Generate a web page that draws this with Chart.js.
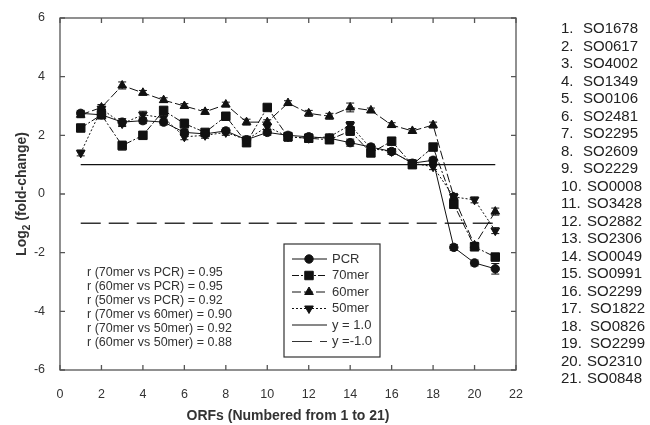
<!DOCTYPE html>
<html lang="en">
  <head>
    <meta charset="UTF-8" />
    <title>Log2 fold-change by ORF</title>
    <script src="https://cdn.jsdelivr.net/npm/chart.js"></script>
    <style>
      html, body { margin: 0; padding: 0; background: #fff; }
      #wrap { width: 650px; height: 425px; }
    </style>
  </head>
  <body>
    <div id="wrap"><canvas id="myChart" width="650" height="425"></canvas></div>
    <script>
      // values
      const orfs = [1, 2, 3, 4, 5, 6, 7, 8, 9, 10, 11, 12, 13, 14, 15, 16, 17, 18, 19, 20, 21];
      const pcr = [2.75, 2.7, 2.45, 2.5, 2.45, 2.1, 2.05, 2.15, 1.85, 2.1, 2.0, 1.95, 1.9, 1.75, 1.6, 1.45, 1.05, 1.15, -1.82, -2.35, -2.55];
      const mer70 = [2.25, 2.7, 1.65, 2.0, 2.85, 2.4, 2.1, 2.65, 1.75, 2.95, 1.95, 1.9, 1.85, 2.15, 1.4, 1.8, 1.0, 1.6, -0.35, -1.8, -2.15];
      const mer60 = [2.7, 2.95, 3.7, 3.45, 3.2, 3.0, 2.8, 3.05, 2.45, 2.45, 3.1, 2.75, 2.65, 2.95, 2.85, 2.35, 2.15, 2.35, -0.1, -1.75, -0.6];
      const mer50 = [1.4, 2.9, 2.4, 2.7, 2.6, 1.95, 2.0, 2.1, 1.85, 2.3, 1.95, 1.9, 1.95, 2.35, 1.55, 1.45, 1.05, 0.93, -0.1, -0.2, -1.25];
      const pcrErr = [0.1, 0.1, 0.12, 0.1, 0.1, 0.1, 0.1, 0.1, 0.1, 0.1, 0.1, 0.1, 0.1, 0.12, 0.1, 0.1, 0.12, 0.1, 0.1, 0.1, 0.18];
      const mer70Err = [0.12, 0.12, 0.15, 0.12, 0.1, 0.15, 0.1, 0.1, 0.12, 0.1, 0.15, 0.1, 0.1, 0.15, 0.1, 0.12, 0.12, 0.1, 0.12, 0.12, 0.12];
      const mer60Err = [0.1, 0.1, 0.12, 0.08, 0.08, 0.08, 0.08, 0.08, 0.1, 0.08, 0.08, 0.1, 0.1, 0.15, 0.08, 0.08, 0.08, 0.1, 0.1, 0.1, 0.12];
      const mer50Err = [0.1, 0.1, 0.1, 0.12, 0.12, 0.1, 0.1, 0.1, 0.12, 0.1, 0.1, 0.1, 0.1, 0.12, 0.12, 0.1, 0.1, 0.1, 0.12, 0.1, 0.1];
      const refUp = 1.0;
      const refDown = -1.0;
      const orfNames = ["SO1678", "SO0617", "SO4002", "SO1349", "SO0106", "SO2481", "SO2295", "SO2609", "SO2229", "SO0008", "SO3428",
        "SO2882", "SO2306", "SO0049", "SO0991", "SO2299", "SO1822", "SO0826", "SO2299", "SO2310", "SO0848"];
      const corrLines = [
        "r (70mer vs PCR) = 0.95",
        "r (60mer vs PCR) = 0.95",
        "r (50mer vs PCR) = 0.92",
        "r (70mer vs 60mer) = 0.90",
        "r (70mer vs 50mer) = 0.92",
        "r (60mer vs 50mer) = 0.88",
      ];
      const xTicks = [0, 2, 4, 6, 8, 10, 12, 14, 16, 18, 20, 22];
      const yTicks = [-6, -4, -2, 0, 2, 4, 6];

      const ink = "#111";
      const axisCol = "#555";
      const textCol = "#333";
      const toPts = (arr) => arr.map((v, i) => ({ x: orfs[i], y: v }));

      const series = [
        { label: "PCR", data: pcr, err: pcrErr, style: "circle", radius: 4.2, rot: 0, dash: [] },
        { label: "70mer", data: mer70, err: mer70Err, style: "rect", radius: 6, rot: 0, dash: [7, 2, 2, 2] },
        { label: "60mer", data: mer60, err: mer60Err, style: "triangle", radius: 5, rot: 0, dash: [9, 3] },
        { label: "50mer", data: mer50, err: mer50Err, style: "triangle", radius: 5, rot: 180, dash: [2, 2] },
      ];

      const datasets = series.map((s) => ({
        label: s.label,
        data: toPts(s.data),
        borderColor: ink,
        backgroundColor: ink,
        borderWidth: 1,
        borderDash: s.dash,
        pointStyle: s.style,
        pointRadius: s.radius,
        pointRotation: s.rot,
        pointBackgroundColor: ink,
        pointBorderColor: ink,
        pointBorderWidth: 1,
        tension: 0,
      }));
      datasets.push({
        label: "y = 1.0",
        data: [{ x: orfs[0], y: refUp }, { x: orfs[orfs.length - 1], y: refUp }],
        borderColor: ink, borderWidth: 1.2, pointRadius: 0,
      });
      datasets.push({
        label: "y =-1.0",
        data: [{ x: orfs[0], y: refDown }, { x: orfs[orfs.length - 1], y: refDown }],
        borderColor: "#333", borderWidth: 1.5, borderDash: [20, 8], pointRadius: 0,
      });

      const extras = {
        id: "extras",
        beforeDatasetsDraw(chart) {
          const c = chart.ctx;
          const ys = chart.scales.y;
          c.save();
          c.strokeStyle = ink;
          c.lineWidth = 1;
          series.forEach((s, i) => {
            const meta = chart.getDatasetMeta(i);
            meta.data.forEach((p, j) => {
              const top = ys.getPixelForValue(s.data[j] + s.err[j]);
              const bot = ys.getPixelForValue(s.data[j] - s.err[j]);
              c.beginPath();
              c.moveTo(p.x, top); c.lineTo(p.x, bot);
              c.moveTo(p.x - 4, top); c.lineTo(p.x + 4, top);
              c.moveTo(p.x - 4, bot); c.lineTo(p.x + 4, bot);
              c.stroke();
            });
          });
          c.restore();
        },
        afterDraw(chart) {
          const c = chart.ctx;
          const a = chart.chartArea;
          const xs = chart.scales.x;
          const ys = chart.scales.y;
          c.save();
          // frame and inner ticks
          c.strokeStyle = axisCol;
          c.lineWidth = 1.3;
          c.strokeRect(a.left, a.top, a.right - a.left, a.bottom - a.top);
          c.beginPath();
          xTicks.forEach((t) => {
            const x = xs.getPixelForValue(t);
            c.moveTo(x, a.bottom); c.lineTo(x, a.bottom - 5);
            c.moveTo(x, a.top); c.lineTo(x, a.top + 5);
          });
          yTicks.forEach((t) => {
            const y = ys.getPixelForValue(t);
            c.moveTo(a.left, y); c.lineTo(a.left + 5, y);
            c.moveTo(a.right, y); c.lineTo(a.right - 5, y);
          });
          c.stroke();

          // y axis title with subscript
          c.fillStyle = textCol;
          c.translate(22, (a.top + a.bottom) / 2);
          c.rotate(-Math.PI / 2);
          const big = "bold 14px 'Liberation Sans', Arial, sans-serif";
          const small = "bold 10px 'Liberation Sans', Arial, sans-serif";
          c.font = big;
          const w1 = c.measureText("Log").width;
          const w3 = c.measureText(" (fold-change)").width;
          c.font = small;
          const w2 = c.measureText("2").width;
          let x0 = -(w1 + w2 + w3) / 2;
          c.textBaseline = "middle";
          c.textAlign = "left";
          c.font = big;
          c.fillText("Log", x0, 0);
          c.font = small;
          c.fillText("2", x0 + w1, 5);
          c.font = big;
          c.fillText(" (fold-change)", x0 + w1 + w2, 0);
          c.setTransform(1, 0, 0, 1, 0, 0);

          // correlation notes
          c.font = "12.5px 'Liberation Sans', Arial, sans-serif";
          c.fillStyle = textCol;
          c.textAlign = "left";
          c.textBaseline = "middle";
          corrLines.forEach((t, i) => c.fillText(t, 87, 273 + i * 14));

          // legend box
          c.strokeStyle = "#333";
          c.lineWidth = 1.2;
          c.strokeRect(284, 244, 96, 113);
          const legendY = 259;
          const step = 16.5;
          chart.data.datasets.forEach((d, i) => {
            const y = legendY + i * step;
            c.strokeStyle = d.borderColor;
            c.lineWidth = 1;
            c.setLineDash(d.borderDash || []);
            c.beginPath();
            c.moveTo(292, y); c.lineTo(327, y);
            c.stroke();
            c.setLineDash([]);
            if (d.pointRadius > 0) {
              c.fillStyle = ink;
              c.strokeStyle = ink;
              Chart.helpers.drawPoint(c, { pointStyle: d.pointStyle, radius: d.pointRadius, rotation: d.pointRotation, borderWidth: 1 }, 309, y);
            }
            c.fillStyle = textCol;
            c.font = "13px 'Liberation Sans', Arial, sans-serif";
            c.fillText(d.label, 332, y);
          });

          // ORF name list
          c.font = "15px 'Liberation Sans', Arial, sans-serif";
          c.fillStyle = "#222";
          orfNames.forEach((n, i) => {
            const y = 29 + i * 17.5;
            const num = orfs[i] + ".";
            c.fillText(num, 561, y);
            const gap = orfs[i] >= 10 ? 26 : 22;
            c.fillText(n, 561 + gap + (orfs[i] >= 17 && orfs[i] <= 19 ? 3 : 0), y);
          });
          c.restore();
        },
      };

      const ctx = document.getElementById("myChart").getContext("2d");
      const myChart = new Chart(ctx, {
        type: "line",
        data: { datasets: datasets },
        plugins: [extras],
        options: {
          responsive: false,
          animation: false,
          devicePixelRatio: 1,
          layout: { padding: { top: 18, right: 134, bottom: 0, left: 0 } },
          plugins: { legend: { display: false }, tooltip: { enabled: false } },
          scales: {
            x: {
              type: "linear",
              min: 0,
              max: 22,
              afterBuildTicks: (s) => { s.ticks = xTicks.map((v) => ({ value: v })); },
              grid: { display: false },
              border: { display: false },
              ticks: { color: textCol, font: { size: 12.5, family: "'Liberation Sans', Arial, sans-serif" }, padding: 9, maxRotation: 0 },
              title: {
                display: true,
                text: "ORFs (Numbered from 1 to 21)",
                color: textCol,
                font: { size: 14, weight: "bold", family: "'Liberation Sans', Arial, sans-serif" },
                padding: { top: 8, bottom: 0 },
              },
              afterFit: (s) => { s.height = 55; },
            },
            y: {
              min: -6,
              max: 6,
              afterBuildTicks: (s) => { s.ticks = yTicks.map((v) => ({ value: v })); },
              grid: { display: false },
              border: { display: false },
              ticks: { color: textCol, font: { size: 12.5, family: "'Liberation Sans', Arial, sans-serif" }, padding: 7 },
              afterFit: (s) => { s.width = 60; },
            },
          },
        },
      });
    </script>
  </body>
</html>
